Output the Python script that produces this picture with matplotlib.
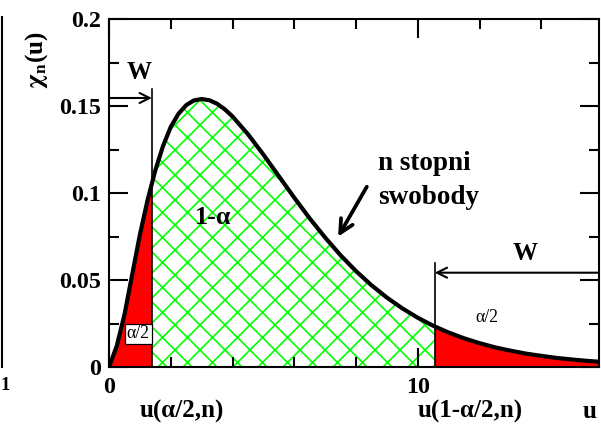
import matplotlib
matplotlib.use("Agg")
import matplotlib.pyplot as plt
from matplotlib.patches import Rectangle
from matplotlib.lines import Line2D
import numpy as np

# ---- data ----
u_vals = [0, 0.25, 0.5, 0.75, 1.0, 1.25, 1.5, 1.75, 2.0, 2.25, 2.5, 2.75, 3.0,
          3.25, 3.5, 3.75, 4.0, 4.5, 5.0, 5.5, 6.0, 6.5, 7.0, 7.5, 8.0, 8.5,
          9.0, 9.5, 10.0, 10.5, 11.0, 11.5, 12.0, 12.5, 13.0, 13.5, 14.0,
          14.5, 15.0, 15.5, 15.9]
chi_vals = [0.0, 0.012, 0.030, 0.053, 0.076, 0.096, 0.113, 0.127, 0.138,
            0.1455, 0.1505, 0.1532, 0.1540, 0.1533, 0.1513, 0.1481, 0.1440,
            0.1338, 0.1221, 0.1097, 0.0973, 0.0854, 0.0744, 0.0642, 0.0551,
            0.0470, 0.0399, 0.0337, 0.0283, 0.0237, 0.0198, 0.0165, 0.0137,
            0.0113, 0.0094, 0.0077, 0.0064, 0.0052, 0.0043, 0.0035, 0.0030]
u_low = 1.39     # u(alpha/2, n)
u_high = 10.55   # u(1-alpha/2, n)
x_max = 15.87
y_max = 0.2
y_ticks = [0, 0.05, 0.1, 0.15, 0.2]
y_ticklabels = ["0", "0.05", "0.1", "0.15", "0.2"]
x_ticks = [0, 10]
x_ticklabels = ["0", "10"]

plt.rcParams['hatch.linewidth'] = 0.8
plt.rcParams['mathtext.fontset'] = 'stix'
SERIF = ['Liberation Serif', 'DejaVu Serif']

W, H, DPI = 601, 428, 150
fig = plt.figure(figsize=(W / DPI, H / DPI), dpi=DPI)
ax = fig.add_axes([109 / W, 1 - 367 / H, (599 - 109) / W, (367 - 19) / H])

u = np.array(u_vals)
y = np.array(chi_vals)

# hatched central region
ax.fill_between(u, 0, y, facecolor='white', edgecolor='#00ff00', hatch='xx',
                linewidth=0, zorder=1)
# red tails (clipped)
for x0, x1 in [(0, u_low), (u_high, x_max + 1)]:
    p = ax.fill_between(u, 0, y, facecolor='#ff0000', edgecolor='none',
                        linewidth=0, zorder=2)
    clip = Rectangle((x0, 0), x1 - x0, 1, transform=ax.transData)
    p.set_clip_path(clip)

ax.plot(u, y, color='black', lw=2.0, zorder=5, solid_joinstyle='round')

# critical value lines
ax.plot([u_low, u_low], [0, 0.160], color='black', lw=0.8, zorder=4)
ax.plot([u_high, u_high], [0, 0.060], color='black', lw=0.8, zorder=4)

# W arrows
ax.annotate('', xy=(u_low, 0.1546), xytext=(0, 0.1546),
            arrowprops=dict(arrowstyle='->', lw=1.0, color='black',
                            shrinkA=0, shrinkB=0, mutation_scale=12),
            zorder=6)
ax.annotate('', xy=(u_high, 0.0542), xytext=(x_max, 0.0542),
            arrowprops=dict(arrowstyle='->', lw=1.0, color='black',
                            shrinkA=0, shrinkB=0, mutation_scale=12),
            zorder=6)
ax.text(0.97, 0.169, 'W', ha='center', va='center', fontsize=12,
        fontweight='bold', family=SERIF)
ax.text(13.48, 0.065, 'W', ha='center', va='center', fontsize=12,
        fontweight='bold', family=SERIF)

# region labels
ax.text(3.37, 0.086, '1-α', ha='center', va='center', fontsize=12.5,
        fontweight='bold', family=SERIF, zorder=7)
ax.text(0.95, 0.019, 'α/2', ha='center', va='center', fontsize=8.5,
        family=SERIF, zorder=7,
        bbox=dict(boxstyle='square,pad=0.1', facecolor='white',
                  edgecolor='black', linewidth=0.6))
ax.text(12.25, 0.0287, 'α/2', ha='center', va='center', fontsize=8.5,
        family=SERIF, zorder=7)

# n stopni swobody
ax.text(8.71, 0.117, 'n stopni', ha='left', va='center', fontsize=13,
        fontweight='bold', family=SERIF)
ax.text(8.71, 0.0977, 'swobody', ha='left', va='center', fontsize=13,
        fontweight='bold', family=SERIF)
ax.annotate('', xy=(7.42, 0.0749), xytext=(8.35, 0.1036),
            arrowprops=dict(arrowstyle='->', lw=1.8, color='black',
                            shrinkA=0, shrinkB=0, mutation_scale=16))

# axes
ax.set_xlim(0, x_max)
ax.set_ylim(0, y_max)
ax.set_xticks(x_ticks)
ax.set_xticklabels(x_ticklabels)
ax.set_xticks([2, 4, 6, 8, 12, 14], minor=True)
ax.set_yticks(y_ticks)
ax.set_yticklabels(y_ticklabels)
ax.set_yticks([0.025, 0.075, 0.125, 0.175], minor=True)
ax.tick_params(which='both', direction='in', top=True, right=True,
               width=1.0, labelsize=11.5)
ax.tick_params(which='major', length=9)
ax.tick_params(which='minor', length=5)
ax.tick_params(axis='y', pad=4)
ax.tick_params(axis='x', pad=5)
for lab in ax.get_xticklabels() + ax.get_yticklabels():
    lab.set_family(SERIF)
    lab.set_fontweight('bold')
for s in ax.spines.values():
    s.set_linewidth(1.0)
    s.set_zorder(8)

# bottom labels
ax.text(2.36, -0.0253, 'u(α/2,n)', ha='center', va='center', fontsize=12,
        fontweight='bold', family=SERIF, clip_on=False)
ax.text(11.69, -0.0253, 'u(1-α/2,n)', ha='center', va='center', fontsize=12,
        fontweight='bold', family=SERIF, clip_on=False)
ax.text(15.55, -0.0253, 'u', ha='center', va='center', fontsize=12,
        fontweight='bold', family=SERIF, clip_on=False)

# y label
fig.text(37 / W, 1 - 60 / H, r'$\mathbf{\chi_{n}}$(u)', rotation=90,
         ha='center', va='center', fontsize=12, fontweight='bold',
         family=SERIF)

# edge remnants of the neighbouring panel
fig.add_artist(Line2D([2 / W, 2 / W], [1 - 17 / H, 1 - 367 / H],
                      transform=fig.transFigure, color='black', lw=1.0))
fig.text(0.5 / W, 1 - 385 / H, '1', ha='left', va='center', fontsize=9,
         fontweight='bold', family=SERIF)

fig.savefig('out.png', dpi=DPI)
